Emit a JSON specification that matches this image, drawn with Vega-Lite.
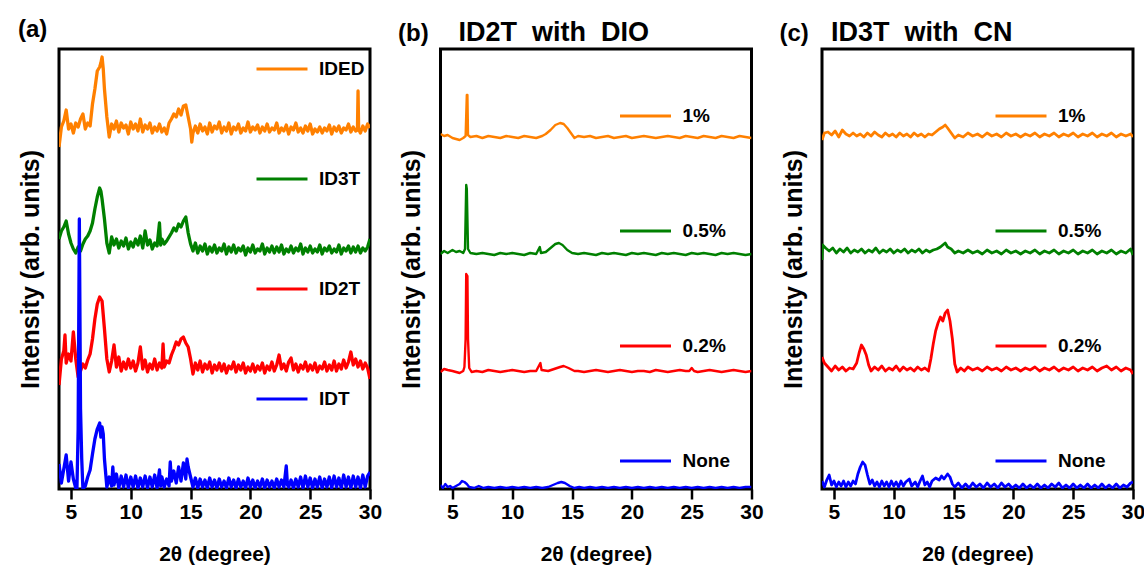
{
"$schema": "https://vega.github.io/schema/vega-lite/v6.json",
"background": "white",
"padding": {"left": 16, "top": 16, "right": 5, "bottom": 5},
"spacing": 13.5,
"config": {
 "font": "Liberation Sans",
 "view": {"stroke": "black", "strokeWidth": 3},
 "axisX": {"values": [4,5,6,7,8,9,10,11,12,13,14,15,16,17,18,19,20,21,22,23,24,25,26,27,28,29,30], "labelExpr": "datum.value % 5 === 0 ? datum.label : ''", "tickSize": {"condition": {"test": "datum.value % 5 === 0", "value": 10}, "value": 6}, "tickWidth": 2.5, "tickColor": "black", "domain": false, "grid": false, "labelFont": "Liberation Sans", "labelFontSize": 21, "labelFontWeight": "bold", "labelColor": "black", "labelPadding": 2, "labelFlush": false, "labelOverlap": false, "titleFont": "Liberation Sans", "titleFontSize": 21, "titleFontWeight": "bold", "titleColor": "black", "titlePadding": 21},
 "axisY": {"ticks": false, "labels": false, "domain": false, "grid": false, "minExtent": 0, "titleFont": "Liberation Sans", "titleFontSize": 25, "titleFontWeight": "bold", "titleColor": "black", "titlePadding": 16},
 "legend": {"orient": "none", "symbolType": "stroke", "symbolSize": 2600, "symbolStrokeWidth": 3, "labelFont": "Liberation Sans", "labelFontSize": 19, "labelFontWeight": "bold", "labelColor": "black", "labelOffset": 10, "rowPadding": 78, "title": null}
},
"datasets": {
 "a": [
  {"s":"IDED","x":4.0,"y":342},{"s":"IDED","x":4.2,"y":362},{"s":"IDED","x":4.4,"y":368},{"s":"IDED","x":4.6,"y":379},{"s":"IDED","x":4.8,"y":360},{"s":"IDED","x":5.0,"y":365},{"s":"IDED","x":5.2,"y":356},{"s":"IDED","x":5.4,"y":366},{"s":"IDED","x":5.6,"y":362},{"s":"IDED","x":5.8,"y":370},{"s":"IDED","x":6.0,"y":375},{"s":"IDED","x":6.2,"y":360},{"s":"IDED","x":6.4,"y":366},{"s":"IDED","x":6.6,"y":363},{"s":"IDED","x":6.8,"y":385},{"s":"IDED","x":7.0,"y":400},{"s":"IDED","x":7.2,"y":418},{"s":"IDED","x":7.4,"y":422},{"s":"IDED","x":7.5,"y":426},{"s":"IDED","x":7.6,"y":432},{"s":"IDED","x":7.7,"y":420},{"s":"IDED","x":7.8,"y":400},{"s":"IDED","x":8.0,"y":372},{"s":"IDED","x":8.2,"y":352},{"s":"IDED","x":8.4,"y":365},{"s":"IDED","x":8.6,"y":360},{"s":"IDED","x":8.8,"y":368},{"s":"IDED","x":9.0,"y":357},{"s":"IDED","x":9.2,"y":366},{"s":"IDED","x":9.4,"y":361},{"s":"IDED","x":9.6,"y":364},{"s":"IDED","x":9.8,"y":355},{"s":"IDED","x":10.0,"y":367},{"s":"IDED","x":10.2,"y":360},{"s":"IDED","x":10.4,"y":365},{"s":"IDED","x":10.6,"y":358},{"s":"IDED","x":10.8,"y":370},{"s":"IDED","x":11.0,"y":357},{"s":"IDED","x":11.2,"y":364},{"s":"IDED","x":11.4,"y":360},{"s":"IDED","x":11.6,"y":366},{"s":"IDED","x":11.8,"y":356},{"s":"IDED","x":12.0,"y":362},{"s":"IDED","x":12.2,"y":358},{"s":"IDED","x":12.4,"y":365},{"s":"IDED","x":12.6,"y":357},{"s":"IDED","x":12.8,"y":361},{"s":"IDED","x":13.0,"y":355},{"s":"IDED","x":13.2,"y":366},{"s":"IDED","x":13.4,"y":370},{"s":"IDED","x":13.6,"y":375},{"s":"IDED","x":13.8,"y":372},{"s":"IDED","x":14.0,"y":380},{"s":"IDED","x":14.2,"y":374},{"s":"IDED","x":14.4,"y":383},{"s":"IDED","x":14.6,"y":384},{"s":"IDED","x":14.8,"y":372},{"s":"IDED","x":15.0,"y":360},{"s":"IDED","x":15.1,"y":347},{"s":"IDED","x":15.2,"y":356},{"s":"IDED","x":15.4,"y":363},{"s":"IDED","x":15.6,"y":356},{"s":"IDED","x":15.8,"y":365},{"s":"IDED","x":16.0,"y":358},{"s":"IDED","x":16.2,"y":362},{"s":"IDED","x":16.4,"y":355},{"s":"IDED","x":16.6,"y":366},{"s":"IDED","x":16.8,"y":357},{"s":"IDED","x":17.0,"y":363},{"s":"IDED","x":17.2,"y":360},{"s":"IDED","x":17.4,"y":367},{"s":"IDED","x":17.6,"y":356},{"s":"IDED","x":17.8,"y":362},{"s":"IDED","x":18.0,"y":358},{"s":"IDED","x":18.2,"y":366},{"s":"IDED","x":18.4,"y":355},{"s":"IDED","x":18.6,"y":362},{"s":"IDED","x":18.8,"y":359},{"s":"IDED","x":19.0,"y":365},{"s":"IDED","x":19.2,"y":356},{"s":"IDED","x":19.4,"y":361},{"s":"IDED","x":19.6,"y":358},{"s":"IDED","x":19.8,"y":367},{"s":"IDED","x":20.0,"y":357},{"s":"IDED","x":20.2,"y":362},{"s":"IDED","x":20.4,"y":359},{"s":"IDED","x":20.6,"y":364},{"s":"IDED","x":20.8,"y":356},{"s":"IDED","x":21.0,"y":362},{"s":"IDED","x":21.2,"y":358},{"s":"IDED","x":21.4,"y":365},{"s":"IDED","x":21.6,"y":357},{"s":"IDED","x":21.8,"y":361},{"s":"IDED","x":22.0,"y":359},{"s":"IDED","x":22.2,"y":366},{"s":"IDED","x":22.4,"y":356},{"s":"IDED","x":22.6,"y":361},{"s":"IDED","x":22.8,"y":358},{"s":"IDED","x":23.0,"y":364},{"s":"IDED","x":23.2,"y":355},{"s":"IDED","x":23.4,"y":362},{"s":"IDED","x":23.6,"y":359},{"s":"IDED","x":23.8,"y":366},{"s":"IDED","x":24.0,"y":357},{"s":"IDED","x":24.2,"y":361},{"s":"IDED","x":24.4,"y":356},{"s":"IDED","x":24.6,"y":363},{"s":"IDED","x":24.8,"y":358},{"s":"IDED","x":25.0,"y":365},{"s":"IDED","x":25.2,"y":355},{"s":"IDED","x":25.4,"y":360},{"s":"IDED","x":25.6,"y":357},{"s":"IDED","x":25.8,"y":362},{"s":"IDED","x":26.0,"y":356},{"s":"IDED","x":26.2,"y":361},{"s":"IDED","x":26.4,"y":358},{"s":"IDED","x":26.6,"y":364},{"s":"IDED","x":26.8,"y":355},{"s":"IDED","x":27.0,"y":362},{"s":"IDED","x":27.2,"y":358},{"s":"IDED","x":27.4,"y":363},{"s":"IDED","x":27.6,"y":356},{"s":"IDED","x":27.8,"y":361},{"s":"IDED","x":28.0,"y":359},{"s":"IDED","x":28.2,"y":365},{"s":"IDED","x":28.4,"y":357},{"s":"IDED","x":28.6,"y":362},{"s":"IDED","x":28.8,"y":358},{"s":"IDED","x":28.95,"y":359},{"s":"IDED","x":29.0,"y":398},{"s":"IDED","x":29.05,"y":360},{"s":"IDED","x":29.2,"y":356},{"s":"IDED","x":29.4,"y":363},{"s":"IDED","x":29.6,"y":358},{"s":"IDED","x":29.8,"y":365},{"s":"IDED","x":30.0,"y":361},
  {"s":"ID3T","x":4.0,"y":250},{"s":"ID3T","x":4.2,"y":258},{"s":"ID3T","x":4.4,"y":262},{"s":"ID3T","x":4.6,"y":268},{"s":"ID3T","x":4.8,"y":255},{"s":"ID3T","x":5.0,"y":246},{"s":"ID3T","x":5.2,"y":240},{"s":"ID3T","x":5.4,"y":236},{"s":"ID3T","x":5.6,"y":242},{"s":"ID3T","x":5.8,"y":238},{"s":"ID3T","x":6.0,"y":245},{"s":"ID3T","x":6.2,"y":250},{"s":"ID3T","x":6.4,"y":253},{"s":"ID3T","x":6.6,"y":258},{"s":"ID3T","x":6.8,"y":266},{"s":"ID3T","x":7.0,"y":280},{"s":"ID3T","x":7.2,"y":292},{"s":"ID3T","x":7.4,"y":301},{"s":"ID3T","x":7.5,"y":298},{"s":"ID3T","x":7.6,"y":290},{"s":"ID3T","x":7.8,"y":270},{"s":"ID3T","x":8.0,"y":246},{"s":"ID3T","x":8.2,"y":236},{"s":"ID3T","x":8.4,"y":252},{"s":"ID3T","x":8.6,"y":244},{"s":"ID3T","x":8.8,"y":250},{"s":"ID3T","x":9.0,"y":241},{"s":"ID3T","x":9.2,"y":248},{"s":"ID3T","x":9.4,"y":243},{"s":"ID3T","x":9.6,"y":251},{"s":"ID3T","x":9.8,"y":240},{"s":"ID3T","x":10.0,"y":247},{"s":"ID3T","x":10.2,"y":242},{"s":"ID3T","x":10.4,"y":250},{"s":"ID3T","x":10.6,"y":244},{"s":"ID3T","x":10.8,"y":253},{"s":"ID3T","x":11.0,"y":241},{"s":"ID3T","x":11.2,"y":258},{"s":"ID3T","x":11.4,"y":244},{"s":"ID3T","x":11.6,"y":249},{"s":"ID3T","x":11.8,"y":240},{"s":"ID3T","x":12.0,"y":246},{"s":"ID3T","x":12.2,"y":243},{"s":"ID3T","x":12.4,"y":266},{"s":"ID3T","x":12.5,"y":244},{"s":"ID3T","x":12.6,"y":250},{"s":"ID3T","x":12.8,"y":245},{"s":"ID3T","x":13.0,"y":248},{"s":"ID3T","x":13.2,"y":252},{"s":"ID3T","x":13.4,"y":256},{"s":"ID3T","x":13.6,"y":261},{"s":"ID3T","x":13.8,"y":258},{"s":"ID3T","x":14.0,"y":265},{"s":"ID3T","x":14.2,"y":262},{"s":"ID3T","x":14.4,"y":268},{"s":"ID3T","x":14.6,"y":272},{"s":"ID3T","x":14.8,"y":256},{"s":"ID3T","x":15.0,"y":245},{"s":"ID3T","x":15.2,"y":238},{"s":"ID3T","x":15.4,"y":246},{"s":"ID3T","x":15.6,"y":236},{"s":"ID3T","x":15.8,"y":243},{"s":"ID3T","x":16.0,"y":238},{"s":"ID3T","x":16.2,"y":245},{"s":"ID3T","x":16.4,"y":235},{"s":"ID3T","x":16.6,"y":242},{"s":"ID3T","x":16.8,"y":237},{"s":"ID3T","x":17.0,"y":244},{"s":"ID3T","x":17.2,"y":236},{"s":"ID3T","x":17.4,"y":241},{"s":"ID3T","x":17.6,"y":238},{"s":"ID3T","x":17.8,"y":245},{"s":"ID3T","x":18.0,"y":235},{"s":"ID3T","x":18.2,"y":242},{"s":"ID3T","x":18.4,"y":237},{"s":"ID3T","x":18.6,"y":244},{"s":"ID3T","x":18.8,"y":236},{"s":"ID3T","x":19.0,"y":241},{"s":"ID3T","x":19.2,"y":238},{"s":"ID3T","x":19.4,"y":243},{"s":"ID3T","x":19.6,"y":234},{"s":"ID3T","x":19.8,"y":241},{"s":"ID3T","x":20.0,"y":237},{"s":"ID3T","x":20.2,"y":244},{"s":"ID3T","x":20.4,"y":236},{"s":"ID3T","x":20.6,"y":240},{"s":"ID3T","x":20.8,"y":238},{"s":"ID3T","x":21.0,"y":245},{"s":"ID3T","x":21.2,"y":235},{"s":"ID3T","x":21.4,"y":241},{"s":"ID3T","x":21.6,"y":237},{"s":"ID3T","x":21.8,"y":243},{"s":"ID3T","x":22.0,"y":236},{"s":"ID3T","x":22.2,"y":242},{"s":"ID3T","x":22.4,"y":237},{"s":"ID3T","x":22.6,"y":244},{"s":"ID3T","x":22.8,"y":235},{"s":"ID3T","x":23.0,"y":240},{"s":"ID3T","x":23.2,"y":237},{"s":"ID3T","x":23.4,"y":243},{"s":"ID3T","x":23.6,"y":236},{"s":"ID3T","x":23.8,"y":241},{"s":"ID3T","x":24.0,"y":238},{"s":"ID3T","x":24.2,"y":245},{"s":"ID3T","x":24.4,"y":235},{"s":"ID3T","x":24.6,"y":241},{"s":"ID3T","x":24.8,"y":237},{"s":"ID3T","x":25.0,"y":243},{"s":"ID3T","x":25.2,"y":236},{"s":"ID3T","x":25.4,"y":240},{"s":"ID3T","x":25.6,"y":237},{"s":"ID3T","x":25.8,"y":244},{"s":"ID3T","x":26.0,"y":235},{"s":"ID3T","x":26.2,"y":241},{"s":"ID3T","x":26.4,"y":238},{"s":"ID3T","x":26.6,"y":243},{"s":"ID3T","x":26.8,"y":236},{"s":"ID3T","x":27.0,"y":240},{"s":"ID3T","x":27.2,"y":237},{"s":"ID3T","x":27.4,"y":244},{"s":"ID3T","x":27.6,"y":235},{"s":"ID3T","x":27.8,"y":241},{"s":"ID3T","x":28.0,"y":238},{"s":"ID3T","x":28.2,"y":243},{"s":"ID3T","x":28.4,"y":236},{"s":"ID3T","x":28.6,"y":242},{"s":"ID3T","x":28.8,"y":237},{"s":"ID3T","x":29.0,"y":243},{"s":"ID3T","x":29.2,"y":236},{"s":"ID3T","x":29.4,"y":241},{"s":"ID3T","x":29.6,"y":238},{"s":"ID3T","x":29.8,"y":242},{"s":"ID3T","x":30.0,"y":250},
  {"s":"ID2T","x":4.0,"y":104},{"s":"ID2T","x":4.2,"y":130},{"s":"ID2T","x":4.4,"y":138},{"s":"ID2T","x":4.5,"y":154},{"s":"ID2T","x":4.6,"y":126},{"s":"ID2T","x":4.8,"y":135},{"s":"ID2T","x":5.0,"y":128},{"s":"ID2T","x":5.2,"y":157},{"s":"ID2T","x":5.4,"y":130},{"s":"ID2T","x":5.6,"y":112},{"s":"ID2T","x":5.8,"y":118},{"s":"ID2T","x":6.0,"y":125},{"s":"ID2T","x":6.2,"y":121},{"s":"ID2T","x":6.4,"y":129},{"s":"ID2T","x":6.6,"y":135},{"s":"ID2T","x":6.8,"y":150},{"s":"ID2T","x":7.0,"y":170},{"s":"ID2T","x":7.2,"y":185},{"s":"ID2T","x":7.4,"y":192},{"s":"ID2T","x":7.6,"y":188},{"s":"ID2T","x":7.8,"y":160},{"s":"ID2T","x":8.0,"y":130},{"s":"ID2T","x":8.2,"y":117},{"s":"ID2T","x":8.4,"y":128},{"s":"ID2T","x":8.6,"y":144},{"s":"ID2T","x":8.8,"y":122},{"s":"ID2T","x":9.0,"y":132},{"s":"ID2T","x":9.2,"y":118},{"s":"ID2T","x":9.4,"y":127},{"s":"ID2T","x":9.6,"y":120},{"s":"ID2T","x":9.8,"y":130},{"s":"ID2T","x":10.0,"y":121},{"s":"ID2T","x":10.2,"y":128},{"s":"ID2T","x":10.4,"y":118},{"s":"ID2T","x":10.6,"y":126},{"s":"ID2T","x":10.8,"y":142},{"s":"ID2T","x":11.0,"y":120},{"s":"ID2T","x":11.2,"y":129},{"s":"ID2T","x":11.4,"y":117},{"s":"ID2T","x":11.6,"y":125},{"s":"ID2T","x":11.8,"y":120},{"s":"ID2T","x":12.0,"y":130},{"s":"ID2T","x":12.2,"y":119},{"s":"ID2T","x":12.4,"y":126},{"s":"ID2T","x":12.6,"y":121},{"s":"ID2T","x":12.7,"y":145},{"s":"ID2T","x":12.8,"y":122},{"s":"ID2T","x":13.0,"y":128},{"s":"ID2T","x":13.2,"y":126},{"s":"ID2T","x":13.4,"y":134},{"s":"ID2T","x":13.6,"y":140},{"s":"ID2T","x":13.8,"y":147},{"s":"ID2T","x":14.0,"y":144},{"s":"ID2T","x":14.2,"y":150},{"s":"ID2T","x":14.4,"y":152},{"s":"ID2T","x":14.6,"y":146},{"s":"ID2T","x":14.8,"y":142},{"s":"ID2T","x":15.0,"y":130},{"s":"ID2T","x":15.2,"y":115},{"s":"ID2T","x":15.4,"y":126},{"s":"ID2T","x":15.6,"y":119},{"s":"ID2T","x":15.8,"y":128},{"s":"ID2T","x":16.0,"y":117},{"s":"ID2T","x":16.2,"y":125},{"s":"ID2T","x":16.4,"y":120},{"s":"ID2T","x":16.6,"y":127},{"s":"ID2T","x":16.8,"y":116},{"s":"ID2T","x":17.0,"y":124},{"s":"ID2T","x":17.2,"y":119},{"s":"ID2T","x":17.4,"y":126},{"s":"ID2T","x":17.6,"y":118},{"s":"ID2T","x":17.8,"y":125},{"s":"ID2T","x":18.0,"y":116},{"s":"ID2T","x":18.2,"y":123},{"s":"ID2T","x":18.4,"y":120},{"s":"ID2T","x":18.6,"y":127},{"s":"ID2T","x":18.8,"y":117},{"s":"ID2T","x":19.0,"y":124},{"s":"ID2T","x":19.2,"y":119},{"s":"ID2T","x":19.4,"y":126},{"s":"ID2T","x":19.6,"y":116},{"s":"ID2T","x":19.8,"y":122},{"s":"ID2T","x":20.0,"y":118},{"s":"ID2T","x":20.2,"y":125},{"s":"ID2T","x":20.4,"y":117},{"s":"ID2T","x":20.6,"y":123},{"s":"ID2T","x":20.8,"y":119},{"s":"ID2T","x":21.0,"y":126},{"s":"ID2T","x":21.2,"y":116},{"s":"ID2T","x":21.4,"y":123},{"s":"ID2T","x":21.6,"y":119},{"s":"ID2T","x":21.8,"y":127},{"s":"ID2T","x":22.0,"y":118},{"s":"ID2T","x":22.2,"y":124},{"s":"ID2T","x":22.4,"y":134},{"s":"ID2T","x":22.6,"y":120},{"s":"ID2T","x":22.8,"y":125},{"s":"ID2T","x":23.0,"y":118},{"s":"ID2T","x":23.2,"y":127},{"s":"ID2T","x":23.4,"y":131},{"s":"ID2T","x":23.6,"y":119},{"s":"ID2T","x":23.8,"y":125},{"s":"ID2T","x":24.0,"y":117},{"s":"ID2T","x":24.2,"y":124},{"s":"ID2T","x":24.4,"y":120},{"s":"ID2T","x":24.6,"y":127},{"s":"ID2T","x":24.8,"y":118},{"s":"ID2T","x":25.0,"y":124},{"s":"ID2T","x":25.2,"y":119},{"s":"ID2T","x":25.4,"y":126},{"s":"ID2T","x":25.6,"y":117},{"s":"ID2T","x":25.8,"y":123},{"s":"ID2T","x":26.0,"y":120},{"s":"ID2T","x":26.2,"y":127},{"s":"ID2T","x":26.4,"y":118},{"s":"ID2T","x":26.6,"y":124},{"s":"ID2T","x":26.8,"y":119},{"s":"ID2T","x":27.0,"y":128},{"s":"ID2T","x":27.2,"y":118},{"s":"ID2T","x":27.4,"y":125},{"s":"ID2T","x":27.6,"y":120},{"s":"ID2T","x":27.8,"y":129},{"s":"ID2T","x":28.0,"y":121},{"s":"ID2T","x":28.2,"y":127},{"s":"ID2T","x":28.4,"y":137},{"s":"ID2T","x":28.6,"y":124},{"s":"ID2T","x":28.8,"y":130},{"s":"ID2T","x":29.0,"y":122},{"s":"ID2T","x":29.2,"y":128},{"s":"ID2T","x":29.4,"y":120},{"s":"ID2T","x":29.6,"y":126},{"s":"ID2T","x":29.8,"y":121},{"s":"ID2T","x":30.0,"y":110},
  {"s":"IDT","x":4.0,"y":25},{"s":"IDT","x":4.2,"y":6},{"s":"IDT","x":4.4,"y":20},{"s":"IDT","x":4.6,"y":34},{"s":"IDT","x":4.8,"y":8},{"s":"IDT","x":5.0,"y":27},{"s":"IDT","x":5.2,"y":10},{"s":"IDT","x":5.4,"y":1},{"s":"IDT","x":5.5,"y":0},{"s":"IDT","x":5.6,"y":60},{"s":"IDT","x":5.7,"y":270},{"s":"IDT","x":5.8,"y":80},{"s":"IDT","x":5.9,"y":30},{"s":"IDT","x":6.0,"y":0},{"s":"IDT","x":6.2,"y":3},{"s":"IDT","x":6.4,"y":12},{"s":"IDT","x":6.6,"y":19},{"s":"IDT","x":6.8,"y":35},{"s":"IDT","x":7.0,"y":50},{"s":"IDT","x":7.2,"y":60},{"s":"IDT","x":7.4,"y":66},{"s":"IDT","x":7.5,"y":52},{"s":"IDT","x":7.6,"y":62},{"s":"IDT","x":7.7,"y":55},{"s":"IDT","x":7.8,"y":30},{"s":"IDT","x":8.0,"y":2},{"s":"IDT","x":8.2,"y":12},{"s":"IDT","x":8.4,"y":3},{"s":"IDT","x":8.5,"y":22},{"s":"IDT","x":8.6,"y":4},{"s":"IDT","x":8.8,"y":15},{"s":"IDT","x":9.0,"y":1},{"s":"IDT","x":9.2,"y":13},{"s":"IDT","x":9.4,"y":2},{"s":"IDT","x":9.6,"y":14},{"s":"IDT","x":9.8,"y":1},{"s":"IDT","x":10.0,"y":12},{"s":"IDT","x":10.2,"y":2},{"s":"IDT","x":10.4,"y":13},{"s":"IDT","x":10.6,"y":1},{"s":"IDT","x":10.8,"y":11},{"s":"IDT","x":11.0,"y":2},{"s":"IDT","x":11.2,"y":13},{"s":"IDT","x":11.4,"y":1},{"s":"IDT","x":11.6,"y":12},{"s":"IDT","x":11.8,"y":2},{"s":"IDT","x":12.0,"y":14},{"s":"IDT","x":12.2,"y":1},{"s":"IDT","x":12.4,"y":19},{"s":"IDT","x":12.5,"y":3},{"s":"IDT","x":12.6,"y":12},{"s":"IDT","x":12.8,"y":2},{"s":"IDT","x":13.0,"y":10},{"s":"IDT","x":13.2,"y":3},{"s":"IDT","x":13.3,"y":27},{"s":"IDT","x":13.4,"y":8},{"s":"IDT","x":13.6,"y":18},{"s":"IDT","x":13.8,"y":6},{"s":"IDT","x":14.0,"y":22},{"s":"IDT","x":14.2,"y":8},{"s":"IDT","x":14.4,"y":26},{"s":"IDT","x":14.6,"y":10},{"s":"IDT","x":14.7,"y":30},{"s":"IDT","x":14.8,"y":22},{"s":"IDT","x":15.0,"y":12},{"s":"IDT","x":15.2,"y":2},{"s":"IDT","x":15.4,"y":11},{"s":"IDT","x":15.6,"y":1},{"s":"IDT","x":15.8,"y":10},{"s":"IDT","x":16.0,"y":2},{"s":"IDT","x":16.2,"y":9},{"s":"IDT","x":16.4,"y":1},{"s":"IDT","x":16.6,"y":11},{"s":"IDT","x":16.8,"y":2},{"s":"IDT","x":17.0,"y":9},{"s":"IDT","x":17.2,"y":1},{"s":"IDT","x":17.4,"y":10},{"s":"IDT","x":17.6,"y":2},{"s":"IDT","x":17.8,"y":8},{"s":"IDT","x":18.0,"y":1},{"s":"IDT","x":18.2,"y":11},{"s":"IDT","x":18.4,"y":2},{"s":"IDT","x":18.6,"y":9},{"s":"IDT","x":18.8,"y":1},{"s":"IDT","x":19.0,"y":10},{"s":"IDT","x":19.2,"y":2},{"s":"IDT","x":19.4,"y":8},{"s":"IDT","x":19.6,"y":1},{"s":"IDT","x":19.8,"y":11},{"s":"IDT","x":20.0,"y":2},{"s":"IDT","x":20.2,"y":9},{"s":"IDT","x":20.4,"y":1},{"s":"IDT","x":20.6,"y":8},{"s":"IDT","x":20.8,"y":2},{"s":"IDT","x":21.0,"y":10},{"s":"IDT","x":21.2,"y":1},{"s":"IDT","x":21.4,"y":9},{"s":"IDT","x":21.6,"y":2},{"s":"IDT","x":21.8,"y":8},{"s":"IDT","x":22.0,"y":1},{"s":"IDT","x":22.2,"y":10},{"s":"IDT","x":22.4,"y":2},{"s":"IDT","x":22.6,"y":9},{"s":"IDT","x":22.8,"y":2},{"s":"IDT","x":23.0,"y":23},{"s":"IDT","x":23.1,"y":4},{"s":"IDT","x":23.2,"y":2},{"s":"IDT","x":23.4,"y":9},{"s":"IDT","x":23.6,"y":1},{"s":"IDT","x":23.8,"y":10},{"s":"IDT","x":24.0,"y":2},{"s":"IDT","x":24.2,"y":12},{"s":"IDT","x":24.4,"y":1},{"s":"IDT","x":24.6,"y":13},{"s":"IDT","x":24.8,"y":2},{"s":"IDT","x":25.0,"y":11},{"s":"IDT","x":25.2,"y":1},{"s":"IDT","x":25.4,"y":10},{"s":"IDT","x":25.6,"y":2},{"s":"IDT","x":25.8,"y":12},{"s":"IDT","x":26.0,"y":1},{"s":"IDT","x":26.2,"y":10},{"s":"IDT","x":26.4,"y":2},{"s":"IDT","x":26.6,"y":12},{"s":"IDT","x":26.8,"y":1},{"s":"IDT","x":27.0,"y":13},{"s":"IDT","x":27.2,"y":2},{"s":"IDT","x":27.4,"y":11},{"s":"IDT","x":27.6,"y":1},{"s":"IDT","x":27.8,"y":14},{"s":"IDT","x":28.0,"y":2},{"s":"IDT","x":28.2,"y":12},{"s":"IDT","x":28.4,"y":1},{"s":"IDT","x":28.6,"y":13},{"s":"IDT","x":28.8,"y":2},{"s":"IDT","x":29.0,"y":12},{"s":"IDT","x":29.2,"y":1},{"s":"IDT","x":29.4,"y":14},{"s":"IDT","x":29.6,"y":2},{"s":"IDT","x":29.8,"y":13},{"s":"IDT","x":30.0,"y":17}
 ],
 "b": [
  {"s":"1%","x":4.0,"y":355},{"s":"1%","x":4.3,"y":353},{"s":"1%","x":4.6,"y":354},{"s":"1%","x":5.0,"y":351},{"s":"1%","x":5.3,"y":350},{"s":"1%","x":5.6,"y":349},{"s":"1%","x":5.9,"y":351},{"s":"1%","x":6.1,"y":353},{"s":"1%","x":6.2,"y":394},{"s":"1%","x":6.25,"y":394},{"s":"1%","x":6.3,"y":354},{"s":"1%","x":6.5,"y":352},{"s":"1%","x":7.0,"y":353},{"s":"1%","x":7.5,"y":351},{"s":"1%","x":8.0,"y":353},{"s":"1%","x":8.5,"y":352},{"s":"1%","x":9.0,"y":351},{"s":"1%","x":9.5,"y":353},{"s":"1%","x":10.0,"y":352},{"s":"1%","x":10.5,"y":351},{"s":"1%","x":11.0,"y":353},{"s":"1%","x":11.5,"y":352},{"s":"1%","x":12.0,"y":351},{"s":"1%","x":12.5,"y":353},{"s":"1%","x":12.8,"y":355},{"s":"1%","x":13.2,"y":359},{"s":"1%","x":13.6,"y":364},{"s":"1%","x":14.0,"y":366},{"s":"1%","x":14.3,"y":365},{"s":"1%","x":14.6,"y":361},{"s":"1%","x":14.9,"y":356},{"s":"1%","x":15.2,"y":351},{"s":"1%","x":15.5,"y":353},{"s":"1%","x":16.0,"y":352},{"s":"1%","x":16.5,"y":353},{"s":"1%","x":17.0,"y":351},{"s":"1%","x":17.5,"y":352},{"s":"1%","x":18.0,"y":353},{"s":"1%","x":18.5,"y":351},{"s":"1%","x":19.0,"y":352},{"s":"1%","x":19.5,"y":353},{"s":"1%","x":20.0,"y":351},{"s":"1%","x":20.5,"y":352},{"s":"1%","x":21.0,"y":353},{"s":"1%","x":21.5,"y":352},{"s":"1%","x":22.0,"y":351},{"s":"1%","x":22.5,"y":352},{"s":"1%","x":23.0,"y":353},{"s":"1%","x":23.5,"y":352},{"s":"1%","x":24.0,"y":351},{"s":"1%","x":24.5,"y":353},{"s":"1%","x":25.0,"y":352},{"s":"1%","x":25.5,"y":351},{"s":"1%","x":26.0,"y":353},{"s":"1%","x":26.5,"y":352},{"s":"1%","x":27.0,"y":351},{"s":"1%","x":27.5,"y":353},{"s":"1%","x":28.0,"y":352},{"s":"1%","x":28.5,"y":351},{"s":"1%","x":29.0,"y":353},{"s":"1%","x":29.5,"y":352},{"s":"1%","x":30.0,"y":351},
  {"s":"0.5%","x":4.0,"y":235},{"s":"0.5%","x":4.3,"y":238},{"s":"0.5%","x":4.6,"y":236},{"s":"0.5%","x":5.0,"y":239},{"s":"0.5%","x":5.3,"y":237},{"s":"0.5%","x":5.6,"y":238},{"s":"0.5%","x":5.9,"y":236},{"s":"0.5%","x":6.05,"y":240},{"s":"0.5%","x":6.15,"y":304},{"s":"0.5%","x":6.2,"y":300},{"s":"0.5%","x":6.3,"y":240},{"s":"0.5%","x":6.5,"y":236},{"s":"0.5%","x":7.0,"y":235},{"s":"0.5%","x":7.5,"y":236},{"s":"0.5%","x":8.0,"y":235},{"s":"0.5%","x":8.5,"y":234},{"s":"0.5%","x":9.0,"y":236},{"s":"0.5%","x":9.5,"y":235},{"s":"0.5%","x":10.0,"y":236},{"s":"0.5%","x":10.5,"y":235},{"s":"0.5%","x":11.0,"y":234},{"s":"0.5%","x":11.5,"y":236},{"s":"0.5%","x":12.0,"y":235},{"s":"0.5%","x":12.3,"y":242},{"s":"0.5%","x":12.4,"y":236},{"s":"0.5%","x":12.8,"y":237},{"s":"0.5%","x":13.2,"y":241},{"s":"0.5%","x":13.6,"y":245},{"s":"0.5%","x":13.9,"y":246},{"s":"0.5%","x":14.2,"y":244},{"s":"0.5%","x":14.6,"y":239},{"s":"0.5%","x":15.0,"y":236},{"s":"0.5%","x":15.5,"y":235},{"s":"0.5%","x":16.0,"y":236},{"s":"0.5%","x":16.5,"y":235},{"s":"0.5%","x":17.0,"y":234},{"s":"0.5%","x":17.5,"y":236},{"s":"0.5%","x":18.0,"y":235},{"s":"0.5%","x":18.5,"y":236},{"s":"0.5%","x":19.0,"y":235},{"s":"0.5%","x":19.5,"y":234},{"s":"0.5%","x":20.0,"y":236},{"s":"0.5%","x":20.5,"y":235},{"s":"0.5%","x":21.0,"y":236},{"s":"0.5%","x":21.5,"y":235},{"s":"0.5%","x":22.0,"y":234},{"s":"0.5%","x":22.5,"y":236},{"s":"0.5%","x":23.0,"y":235},{"s":"0.5%","x":23.5,"y":236},{"s":"0.5%","x":24.0,"y":235},{"s":"0.5%","x":24.5,"y":234},{"s":"0.5%","x":25.0,"y":236},{"s":"0.5%","x":25.5,"y":235},{"s":"0.5%","x":26.0,"y":236},{"s":"0.5%","x":26.5,"y":235},{"s":"0.5%","x":27.0,"y":234},{"s":"0.5%","x":27.5,"y":236},{"s":"0.5%","x":28.0,"y":235},{"s":"0.5%","x":28.5,"y":236},{"s":"0.5%","x":29.0,"y":235},{"s":"0.5%","x":29.5,"y":234},{"s":"0.5%","x":30.0,"y":235},
  {"s":"0.2%","x":4.0,"y":117},{"s":"0.2%","x":4.3,"y":120},{"s":"0.2%","x":4.6,"y":119},{"s":"0.2%","x":5.0,"y":118},{"s":"0.2%","x":5.3,"y":117},{"s":"0.2%","x":5.6,"y":116},{"s":"0.2%","x":5.9,"y":118},{"s":"0.2%","x":6.0,"y":122},{"s":"0.2%","x":6.1,"y":150},{"s":"0.2%","x":6.15,"y":215},{"s":"0.2%","x":6.25,"y":213},{"s":"0.2%","x":6.3,"y":150},{"s":"0.2%","x":6.4,"y":121},{"s":"0.2%","x":6.6,"y":117},{"s":"0.2%","x":7.0,"y":118},{"s":"0.2%","x":7.5,"y":117},{"s":"0.2%","x":8.0,"y":119},{"s":"0.2%","x":8.5,"y":118},{"s":"0.2%","x":9.0,"y":117},{"s":"0.2%","x":9.5,"y":118},{"s":"0.2%","x":10.0,"y":119},{"s":"0.2%","x":10.5,"y":118},{"s":"0.2%","x":11.0,"y":117},{"s":"0.2%","x":11.5,"y":118},{"s":"0.2%","x":12.0,"y":118},{"s":"0.2%","x":12.35,"y":126},{"s":"0.2%","x":12.45,"y":119},{"s":"0.2%","x":13.0,"y":118},{"s":"0.2%","x":13.5,"y":120},{"s":"0.2%","x":14.0,"y":122},{"s":"0.2%","x":14.3,"y":123},{"s":"0.2%","x":14.7,"y":121},{"s":"0.2%","x":15.2,"y":118},{"s":"0.2%","x":15.5,"y":118},{"s":"0.2%","x":16.0,"y":117},{"s":"0.2%","x":16.5,"y":118},{"s":"0.2%","x":17.0,"y":119},{"s":"0.2%","x":17.5,"y":118},{"s":"0.2%","x":18.0,"y":117},{"s":"0.2%","x":18.5,"y":118},{"s":"0.2%","x":19.0,"y":119},{"s":"0.2%","x":19.5,"y":118},{"s":"0.2%","x":20.0,"y":117},{"s":"0.2%","x":20.5,"y":118},{"s":"0.2%","x":21.0,"y":118},{"s":"0.2%","x":21.5,"y":117},{"s":"0.2%","x":22.0,"y":119},{"s":"0.2%","x":22.5,"y":118},{"s":"0.2%","x":23.0,"y":117},{"s":"0.2%","x":23.5,"y":118},{"s":"0.2%","x":24.0,"y":119},{"s":"0.2%","x":24.5,"y":118},{"s":"0.2%","x":24.8,"y":118},{"s":"0.2%","x":25.0,"y":121},{"s":"0.2%","x":25.2,"y":118},{"s":"0.2%","x":25.5,"y":117},{"s":"0.2%","x":26.0,"y":118},{"s":"0.2%","x":26.5,"y":119},{"s":"0.2%","x":27.0,"y":118},{"s":"0.2%","x":27.5,"y":117},{"s":"0.2%","x":28.0,"y":118},{"s":"0.2%","x":28.5,"y":119},{"s":"0.2%","x":29.0,"y":118},{"s":"0.2%","x":29.5,"y":117},{"s":"0.2%","x":30.0,"y":118},
  {"s":"None","x":4.0,"y":4},{"s":"None","x":4.2,"y":1},{"s":"None","x":4.4,"y":5},{"s":"None","x":4.6,"y":2},{"s":"None","x":4.8,"y":3},{"s":"None","x":5.0,"y":1},{"s":"None","x":5.3,"y":3},{"s":"None","x":5.6,"y":5},{"s":"None","x":5.8,"y":8},{"s":"None","x":6.0,"y":7},{"s":"None","x":6.2,"y":5},{"s":"None","x":6.4,"y":2},{"s":"None","x":6.8,"y":1},{"s":"None","x":7.2,"y":3},{"s":"None","x":7.6,"y":1},{"s":"None","x":8.0,"y":2},{"s":"None","x":8.5,"y":1},{"s":"None","x":9.0,"y":2},{"s":"None","x":9.5,"y":1},{"s":"None","x":10.0,"y":2},{"s":"None","x":10.5,"y":1},{"s":"None","x":11.0,"y":2},{"s":"None","x":11.5,"y":1},{"s":"None","x":12.0,"y":2},{"s":"None","x":12.5,"y":1},{"s":"None","x":13.0,"y":2},{"s":"None","x":13.4,"y":4},{"s":"None","x":13.8,"y":6},{"s":"None","x":14.1,"y":7},{"s":"None","x":14.4,"y":6},{"s":"None","x":14.8,"y":3},{"s":"None","x":15.2,"y":1},{"s":"None","x":15.6,"y":2},{"s":"None","x":16.0,"y":1},{"s":"None","x":16.5,"y":2},{"s":"None","x":17.0,"y":1},{"s":"None","x":17.5,"y":2},{"s":"None","x":18.0,"y":1},{"s":"None","x":18.5,"y":2},{"s":"None","x":19.0,"y":1},{"s":"None","x":19.5,"y":2},{"s":"None","x":20.0,"y":1},{"s":"None","x":20.5,"y":2},{"s":"None","x":21.0,"y":1},{"s":"None","x":21.5,"y":2},{"s":"None","x":22.0,"y":1},{"s":"None","x":22.5,"y":2},{"s":"None","x":23.0,"y":1},{"s":"None","x":23.5,"y":2},{"s":"None","x":24.0,"y":1},{"s":"None","x":24.5,"y":2},{"s":"None","x":25.0,"y":1},{"s":"None","x":25.5,"y":2},{"s":"None","x":26.0,"y":1},{"s":"None","x":26.5,"y":2},{"s":"None","x":27.0,"y":1},{"s":"None","x":27.5,"y":2},{"s":"None","x":28.0,"y":1},{"s":"None","x":28.5,"y":2},{"s":"None","x":29.0,"y":1},{"s":"None","x":29.5,"y":2},{"s":"None","x":30.0,"y":2}
 ],
 "c": [
  {"s":"1%","x":4.0,"y":349},{"s":"1%","x":4.2,"y":356},{"s":"1%","x":4.5,"y":357},{"s":"1%","x":4.8,"y":354},{"s":"1%","x":5.1,"y":358},{"s":"1%","x":5.4,"y":352},{"s":"1%","x":5.7,"y":359},{"s":"1%","x":6.0,"y":355},{"s":"1%","x":6.3,"y":353},{"s":"1%","x":6.6,"y":356},{"s":"1%","x":6.9,"y":353},{"s":"1%","x":7.2,"y":355},{"s":"1%","x":7.5,"y":352},{"s":"1%","x":7.8,"y":356},{"s":"1%","x":8.1,"y":353},{"s":"1%","x":8.4,"y":357},{"s":"1%","x":8.7,"y":354},{"s":"1%","x":9.0,"y":352},{"s":"1%","x":9.3,"y":356},{"s":"1%","x":9.6,"y":353},{"s":"1%","x":9.9,"y":355},{"s":"1%","x":10.2,"y":352},{"s":"1%","x":10.5,"y":356},{"s":"1%","x":10.8,"y":353},{"s":"1%","x":11.1,"y":355},{"s":"1%","x":11.4,"y":352},{"s":"1%","x":11.7,"y":356},{"s":"1%","x":12.0,"y":353},{"s":"1%","x":12.3,"y":355},{"s":"1%","x":12.6,"y":352},{"s":"1%","x":12.9,"y":355},{"s":"1%","x":13.2,"y":354},{"s":"1%","x":13.5,"y":357},{"s":"1%","x":13.8,"y":360},{"s":"1%","x":14.1,"y":362},{"s":"1%","x":14.3,"y":364},{"s":"1%","x":14.5,"y":361},{"s":"1%","x":14.8,"y":356},{"s":"1%","x":15.1,"y":351},{"s":"1%","x":15.4,"y":354},{"s":"1%","x":15.8,"y":352},{"s":"1%","x":16.2,"y":356},{"s":"1%","x":16.6,"y":353},{"s":"1%","x":17.0,"y":355},{"s":"1%","x":17.4,"y":352},{"s":"1%","x":17.8,"y":356},{"s":"1%","x":18.2,"y":353},{"s":"1%","x":18.6,"y":355},{"s":"1%","x":19.0,"y":352},{"s":"1%","x":19.4,"y":356},{"s":"1%","x":19.8,"y":353},{"s":"1%","x":20.2,"y":355},{"s":"1%","x":20.6,"y":352},{"s":"1%","x":21.0,"y":355},{"s":"1%","x":21.4,"y":353},{"s":"1%","x":21.8,"y":356},{"s":"1%","x":22.2,"y":352},{"s":"1%","x":22.6,"y":355},{"s":"1%","x":23.0,"y":353},{"s":"1%","x":23.4,"y":356},{"s":"1%","x":23.8,"y":352},{"s":"1%","x":24.2,"y":355},{"s":"1%","x":24.6,"y":353},{"s":"1%","x":25.0,"y":356},{"s":"1%","x":25.4,"y":352},{"s":"1%","x":25.8,"y":355},{"s":"1%","x":26.2,"y":353},{"s":"1%","x":26.6,"y":356},{"s":"1%","x":27.0,"y":352},{"s":"1%","x":27.4,"y":355},{"s":"1%","x":27.8,"y":353},{"s":"1%","x":28.2,"y":356},{"s":"1%","x":28.6,"y":352},{"s":"1%","x":29.0,"y":355},{"s":"1%","x":29.4,"y":353},{"s":"1%","x":29.8,"y":355},{"s":"1%","x":30.0,"y":352},
  {"s":"0.5%","x":4.0,"y":229},{"s":"0.5%","x":4.05,"y":244},{"s":"0.5%","x":4.3,"y":241},{"s":"0.5%","x":4.6,"y":238},{"s":"0.5%","x":4.9,"y":241},{"s":"0.5%","x":5.2,"y":236},{"s":"0.5%","x":5.5,"y":240},{"s":"0.5%","x":5.8,"y":237},{"s":"0.5%","x":6.1,"y":241},{"s":"0.5%","x":6.4,"y":236},{"s":"0.5%","x":6.7,"y":239},{"s":"0.5%","x":7.0,"y":237},{"s":"0.5%","x":7.3,"y":240},{"s":"0.5%","x":7.6,"y":236},{"s":"0.5%","x":7.9,"y":239},{"s":"0.5%","x":8.2,"y":237},{"s":"0.5%","x":8.5,"y":241},{"s":"0.5%","x":8.8,"y":236},{"s":"0.5%","x":9.1,"y":239},{"s":"0.5%","x":9.4,"y":237},{"s":"0.5%","x":9.7,"y":240},{"s":"0.5%","x":10.0,"y":236},{"s":"0.5%","x":10.3,"y":239},{"s":"0.5%","x":10.6,"y":237},{"s":"0.5%","x":10.9,"y":240},{"s":"0.5%","x":11.2,"y":236},{"s":"0.5%","x":11.5,"y":239},{"s":"0.5%","x":11.8,"y":237},{"s":"0.5%","x":12.1,"y":240},{"s":"0.5%","x":12.4,"y":236},{"s":"0.5%","x":12.7,"y":239},{"s":"0.5%","x":13.0,"y":237},{"s":"0.5%","x":13.3,"y":239},{"s":"0.5%","x":13.6,"y":240},{"s":"0.5%","x":13.9,"y":242},{"s":"0.5%","x":14.1,"y":244},{"s":"0.5%","x":14.3,"y":246},{"s":"0.5%","x":14.5,"y":242},{"s":"0.5%","x":14.8,"y":240},{"s":"0.5%","x":15.1,"y":236},{"s":"0.5%","x":15.4,"y":238},{"s":"0.5%","x":15.8,"y":236},{"s":"0.5%","x":16.2,"y":239},{"s":"0.5%","x":16.6,"y":236},{"s":"0.5%","x":17.0,"y":238},{"s":"0.5%","x":17.4,"y":235},{"s":"0.5%","x":17.8,"y":239},{"s":"0.5%","x":18.2,"y":236},{"s":"0.5%","x":18.6,"y":238},{"s":"0.5%","x":19.0,"y":235},{"s":"0.5%","x":19.4,"y":239},{"s":"0.5%","x":19.8,"y":236},{"s":"0.5%","x":20.2,"y":238},{"s":"0.5%","x":20.6,"y":235},{"s":"0.5%","x":21.0,"y":238},{"s":"0.5%","x":21.4,"y":236},{"s":"0.5%","x":21.8,"y":239},{"s":"0.5%","x":22.2,"y":235},{"s":"0.5%","x":22.6,"y":238},{"s":"0.5%","x":23.0,"y":236},{"s":"0.5%","x":23.4,"y":239},{"s":"0.5%","x":23.8,"y":235},{"s":"0.5%","x":24.2,"y":238},{"s":"0.5%","x":24.6,"y":236},{"s":"0.5%","x":25.0,"y":239},{"s":"0.5%","x":25.4,"y":235},{"s":"0.5%","x":25.8,"y":238},{"s":"0.5%","x":26.2,"y":236},{"s":"0.5%","x":26.6,"y":239},{"s":"0.5%","x":27.0,"y":235},{"s":"0.5%","x":27.4,"y":238},{"s":"0.5%","x":27.8,"y":236},{"s":"0.5%","x":28.2,"y":239},{"s":"0.5%","x":28.6,"y":235},{"s":"0.5%","x":29.0,"y":238},{"s":"0.5%","x":29.4,"y":236},{"s":"0.5%","x":29.8,"y":240},{"s":"0.5%","x":30.0,"y":234},
  {"s":"0.2%","x":4.0,"y":132},{"s":"0.2%","x":4.2,"y":126},{"s":"0.2%","x":4.5,"y":122},{"s":"0.2%","x":4.8,"y":118},{"s":"0.2%","x":5.1,"y":123},{"s":"0.2%","x":5.4,"y":119},{"s":"0.2%","x":5.7,"y":122},{"s":"0.2%","x":6.0,"y":118},{"s":"0.2%","x":6.3,"y":121},{"s":"0.2%","x":6.6,"y":120},{"s":"0.2%","x":6.9,"y":126},{"s":"0.2%","x":7.1,"y":136},{"s":"0.2%","x":7.3,"y":144},{"s":"0.2%","x":7.5,"y":140},{"s":"0.2%","x":7.7,"y":134},{"s":"0.2%","x":7.9,"y":124},{"s":"0.2%","x":8.1,"y":118},{"s":"0.2%","x":8.4,"y":122},{"s":"0.2%","x":8.7,"y":119},{"s":"0.2%","x":9.0,"y":123},{"s":"0.2%","x":9.3,"y":118},{"s":"0.2%","x":9.6,"y":121},{"s":"0.2%","x":9.9,"y":119},{"s":"0.2%","x":10.2,"y":123},{"s":"0.2%","x":10.5,"y":118},{"s":"0.2%","x":10.8,"y":122},{"s":"0.2%","x":11.1,"y":119},{"s":"0.2%","x":11.4,"y":121},{"s":"0.2%","x":11.7,"y":118},{"s":"0.2%","x":12.0,"y":122},{"s":"0.2%","x":12.3,"y":119},{"s":"0.2%","x":12.6,"y":121},{"s":"0.2%","x":12.9,"y":118},{"s":"0.2%","x":13.1,"y":130},{"s":"0.2%","x":13.3,"y":145},{"s":"0.2%","x":13.5,"y":158},{"s":"0.2%","x":13.7,"y":166},{"s":"0.2%","x":13.9,"y":172},{"s":"0.2%","x":14.1,"y":168},{"s":"0.2%","x":14.3,"y":176},{"s":"0.2%","x":14.5,"y":179},{"s":"0.2%","x":14.7,"y":168},{"s":"0.2%","x":14.9,"y":150},{"s":"0.2%","x":15.1,"y":125},{"s":"0.2%","x":15.3,"y":117},{"s":"0.2%","x":15.6,"y":121},{"s":"0.2%","x":15.9,"y":118},{"s":"0.2%","x":16.2,"y":122},{"s":"0.2%","x":16.6,"y":119},{"s":"0.2%","x":17.0,"y":121},{"s":"0.2%","x":17.4,"y":118},{"s":"0.2%","x":17.8,"y":122},{"s":"0.2%","x":18.2,"y":119},{"s":"0.2%","x":18.6,"y":121},{"s":"0.2%","x":19.0,"y":118},{"s":"0.2%","x":19.4,"y":122},{"s":"0.2%","x":19.8,"y":119},{"s":"0.2%","x":20.2,"y":121},{"s":"0.2%","x":20.6,"y":118},{"s":"0.2%","x":21.0,"y":121},{"s":"0.2%","x":21.4,"y":119},{"s":"0.2%","x":21.8,"y":122},{"s":"0.2%","x":22.2,"y":118},{"s":"0.2%","x":22.6,"y":121},{"s":"0.2%","x":23.0,"y":119},{"s":"0.2%","x":23.4,"y":122},{"s":"0.2%","x":23.8,"y":118},{"s":"0.2%","x":24.2,"y":121},{"s":"0.2%","x":24.6,"y":119},{"s":"0.2%","x":25.0,"y":122},{"s":"0.2%","x":25.4,"y":118},{"s":"0.2%","x":25.8,"y":121},{"s":"0.2%","x":26.2,"y":119},{"s":"0.2%","x":26.6,"y":122},{"s":"0.2%","x":27.0,"y":118},{"s":"0.2%","x":27.4,"y":121},{"s":"0.2%","x":27.8,"y":123},{"s":"0.2%","x":28.2,"y":119},{"s":"0.2%","x":28.6,"y":122},{"s":"0.2%","x":29.0,"y":118},{"s":"0.2%","x":29.4,"y":121},{"s":"0.2%","x":29.8,"y":119},{"s":"0.2%","x":30.0,"y":115},
  {"s":"None","x":4.0,"y":8},{"s":"None","x":4.2,"y":2},{"s":"None","x":4.4,"y":9},{"s":"None","x":4.6,"y":14},{"s":"None","x":4.8,"y":4},{"s":"None","x":5.0,"y":8},{"s":"None","x":5.2,"y":2},{"s":"None","x":5.4,"y":7},{"s":"None","x":5.6,"y":3},{"s":"None","x":5.8,"y":8},{"s":"None","x":6.0,"y":2},{"s":"None","x":6.2,"y":7},{"s":"None","x":6.4,"y":3},{"s":"None","x":6.6,"y":8},{"s":"None","x":6.8,"y":5},{"s":"None","x":7.0,"y":15},{"s":"None","x":7.2,"y":22},{"s":"None","x":7.4,"y":27},{"s":"None","x":7.6,"y":24},{"s":"None","x":7.8,"y":14},{"s":"None","x":8.0,"y":5},{"s":"None","x":8.2,"y":9},{"s":"None","x":8.4,"y":3},{"s":"None","x":8.6,"y":7},{"s":"None","x":8.8,"y":2},{"s":"None","x":9.0,"y":8},{"s":"None","x":9.2,"y":3},{"s":"None","x":9.4,"y":7},{"s":"None","x":9.6,"y":2},{"s":"None","x":9.8,"y":8},{"s":"None","x":10.0,"y":3},{"s":"None","x":10.2,"y":7},{"s":"None","x":10.4,"y":2},{"s":"None","x":10.6,"y":8},{"s":"None","x":10.8,"y":3},{"s":"None","x":11.0,"y":7},{"s":"None","x":11.3,"y":10},{"s":"None","x":11.5,"y":3},{"s":"None","x":11.8,"y":7},{"s":"None","x":12.0,"y":2},{"s":"None","x":12.2,"y":8},{"s":"None","x":12.4,"y":13},{"s":"None","x":12.6,"y":4},{"s":"None","x":12.8,"y":7},{"s":"None","x":13.0,"y":2},{"s":"None","x":13.2,"y":8},{"s":"None","x":13.5,"y":11},{"s":"None","x":13.8,"y":9},{"s":"None","x":14.0,"y":13},{"s":"None","x":14.2,"y":10},{"s":"None","x":14.5,"y":15},{"s":"None","x":14.7,"y":12},{"s":"None","x":14.9,"y":5},{"s":"None","x":15.1,"y":2},{"s":"None","x":15.4,"y":6},{"s":"None","x":15.7,"y":1},{"s":"None","x":16.0,"y":5},{"s":"None","x":16.3,"y":1},{"s":"None","x":16.6,"y":6},{"s":"None","x":16.9,"y":2},{"s":"None","x":17.2,"y":5},{"s":"None","x":17.5,"y":1},{"s":"None","x":17.8,"y":6},{"s":"None","x":18.1,"y":2},{"s":"None","x":18.4,"y":5},{"s":"None","x":18.7,"y":1},{"s":"None","x":19.0,"y":6},{"s":"None","x":19.3,"y":2},{"s":"None","x":19.6,"y":5},{"s":"None","x":19.9,"y":1},{"s":"None","x":20.2,"y":4},{"s":"None","x":20.5,"y":1},{"s":"None","x":20.8,"y":5},{"s":"None","x":21.1,"y":1},{"s":"None","x":21.4,"y":4},{"s":"None","x":21.7,"y":1},{"s":"None","x":22.0,"y":5},{"s":"None","x":22.3,"y":1},{"s":"None","x":22.6,"y":4},{"s":"None","x":22.9,"y":1},{"s":"None","x":23.2,"y":5},{"s":"None","x":23.5,"y":2},{"s":"None","x":23.8,"y":6},{"s":"None","x":24.1,"y":1},{"s":"None","x":24.4,"y":4},{"s":"None","x":24.7,"y":1},{"s":"None","x":25.0,"y":5},{"s":"None","x":25.3,"y":1},{"s":"None","x":25.6,"y":4},{"s":"None","x":25.9,"y":1},{"s":"None","x":26.2,"y":5},{"s":"None","x":26.5,"y":1},{"s":"None","x":26.8,"y":4},{"s":"None","x":27.1,"y":1},{"s":"None","x":27.4,"y":5},{"s":"None","x":27.7,"y":1},{"s":"None","x":28.0,"y":4},{"s":"None","x":28.3,"y":1},{"s":"None","x":28.6,"y":5},{"s":"None","x":28.9,"y":1},{"s":"None","x":29.2,"y":4},{"s":"None","x":29.5,"y":2},{"s":"None","x":29.8,"y":6},{"s":"None","x":30.0,"y":7}
 ]
},
"hconcat": [
 {
  "width": 311, "height": 440,
  "title": {"text": "(a)", "anchor": "start", "frame": "bounds", "fontSize": 24, "fontWeight": "bold", "color": "black", "font": "Liberation Sans", "offset": 0},
  "data": {"name": "a"},
  "mark": {"type": "line", "strokeWidth": 3.3, "strokeJoin": "round", "clip": true},
  "encoding": {
   "x": {"field": "x", "type": "quantitative", "scale": {"domain": [4, 30], "nice": false, "zero": false}, "axis": {"title": "2θ (degree)"}},
   "y": {"field": "y", "type": "quantitative", "scale": {"domain": [0, 440], "nice": false, "zero": false}, "axis": {"title": "Intensity (arb. units)"}},
   "color": {"field": "s", "type": "nominal", "sort": null, "scale": {"domain": ["IDED", "ID3T", "ID2T", "IDT"], "range": ["#FF8000", "#008000", "#FF0000", "#0000FF"]}, "legend": {"legendX": 196, "legendY": -7, "rowPadding": 73}}
  }
 },
 {
  "title": {"text": "(b)", "anchor": "start", "frame": "bounds", "fontSize": 24, "fontWeight": "bold", "color": "black", "font": "Liberation Sans", "offset": -28},
  "hconcat": [
   {
    "width": 311, "height": 440,
    "title": {"text": "ID2T\u00a0 with\u00a0 DIO", "anchor": "start", "frame": "bounds", "dx": 59, "fontSize": 27, "fontWeight": "bold", "color": "black", "font": "Liberation Sans", "offset": 2},
    "data": {"name": "b"},
    "mark": {"type": "line", "strokeWidth": 2.4, "strokeJoin": "round", "clip": true},
    "encoding": {
     "x": {"field": "x", "type": "quantitative", "scale": {"domain": [4, 30], "nice": false, "zero": false}, "axis": {"title": "2θ (degree)"}},
     "y": {"field": "y", "type": "quantitative", "scale": {"domain": [0, 440], "nice": false, "zero": false}, "axis": {"title": "Intensity (arb. units)"}},
     "color": {"field": "s", "type": "nominal", "sort": null, "scale": {"domain": ["1%", "0.5%", "0.2%", "None"], "range": ["#FF8000", "#008000", "#FF0000", "#0000FF"]}, "legend": {"legendX": 178, "legendY": 40}}
    }
   }
  ]
 },
 {
  "title": {"text": "(c)", "anchor": "start", "frame": "bounds", "fontSize": 24, "fontWeight": "bold", "color": "black", "font": "Liberation Sans", "offset": -28},
  "hconcat": [
   {
    "width": 311, "height": 440,
    "title": {"text": "ID3T\u00a0 with\u00a0 CN", "anchor": "start", "frame": "bounds", "dx": 50, "fontSize": 27, "fontWeight": "bold", "color": "black", "font": "Liberation Sans", "offset": 2},
    "data": {"name": "c"},
    "mark": {"type": "line", "strokeWidth": 2.8, "strokeJoin": "round", "clip": true},
    "encoding": {
     "x": {"field": "x", "type": "quantitative", "scale": {"domain": [4, 30], "nice": false, "zero": false}, "axis": {"title": "2θ (degree)"}},
     "y": {"field": "y", "type": "quantitative", "scale": {"domain": [0, 440], "nice": false, "zero": false}, "axis": {"title": "Intensity (arb. units)"}},
     "color": {"field": "s", "type": "nominal", "sort": null, "scale": {"domain": ["1%", "0.5%", "0.2%", "None"], "range": ["#FF8000", "#008000", "#FF0000", "#0000FF"]}, "legend": {"legendX": 172, "legendY": 40}}
    }
   }
  ]
 }
],
"resolve": {"scale": {"color": "independent"}}
}
